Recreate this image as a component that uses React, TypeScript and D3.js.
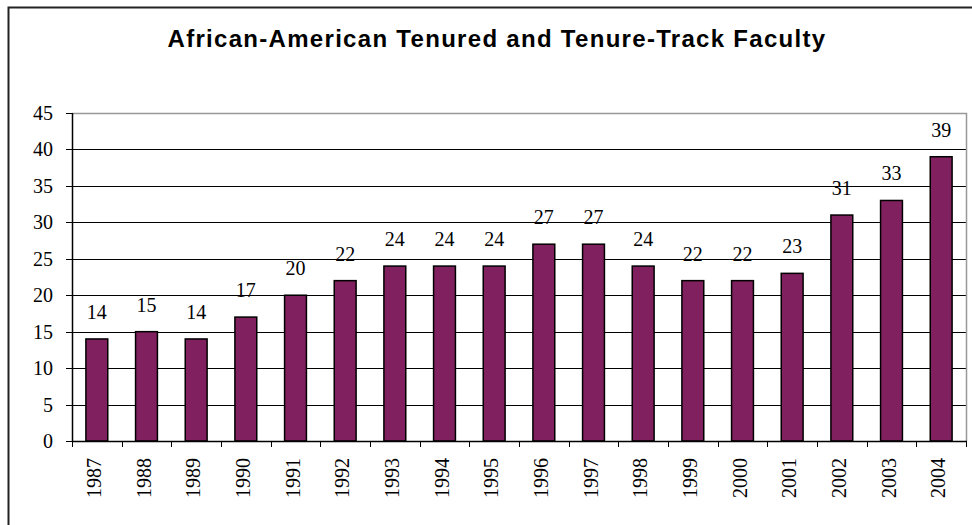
import React, { useEffect, useRef } from 'react';
import * as d3 from 'd3';

const years = ['1987', '1988', '1989', '1990', '1991', '1992', '1993', '1994', '1995', '1996', '1997', '1998', '1999', '2000', '2001', '2002', '2003', '2004'];
const faculty = [14, 15, 14, 17, 20, 22, 24, 24, 24, 27, 27, 24, 22, 22, 23, 31, 33, 39];
const yTicks = [0, 5, 10, 15, 20, 25, 30, 35, 40, 45];
const title = 'African-American Tenured and Tenure-Track Faculty';

const App: React.FC = () => {
  const ref = useRef<SVGSVGElement | null>(null);

  useEffect(() => {
    if (!ref.current) return;
    const svg = d3.select(ref.current);
    svg.selectAll('*').remove();

    const width = 972;
    const height = 525;
    const plot = { left: 72, right: 966, top: 113, bottom: 441 };

    // outer chart frame (runs off the right and bottom edge)
    svg
      .append('rect')
      .attr('x', 8.5)
      .attr('y', 7.5)
      .attr('width', width + 20)
      .attr('height', height + 20)
      .attr('fill', 'white')
      .attr('stroke', '#222')
      .attr('stroke-width', 2);

    svg
      .append('text')
      .attr('x', 497)
      .attr('y', 47)
      .attr('text-anchor', 'middle')
      .attr('font-family', 'Liberation Sans, Arial, sans-serif')
      .attr('font-weight', 'bold')
      .attr('font-size', 24)
      .attr('letter-spacing', 1.3)
      .text(title);

    const x = d3.scaleBand().domain(years).range([plot.left, plot.right]).paddingInner(0).paddingOuter(0);
    const y = d3.scaleLinear().domain([0, 45]).range([plot.bottom, plot.top]);
    const barW = x.bandwidth() * 0.44;

    // grid lines
    svg
      .selectAll('.grid')
      .data(yTicks.filter((d) => d > 0 && d < 45))
      .enter()
      .append('line')
      .attr('x1', plot.left)
      .attr('x2', plot.right)
      .attr('y1', (d) => Math.round(y(d)) + 0.5)
      .attr('y2', (d) => Math.round(y(d)) + 0.5)
      .attr('stroke', '#000')
      .attr('stroke-width', 1);

    // plot area border (top / right) in grey
    svg
      .append('path')
      .attr('d', `M${plot.left},${plot.top + 0.5}H${plot.right + 0.5}V${plot.bottom}`)
      .attr('fill', 'none')
      .attr('stroke', '#999')
      .attr('stroke-width', 1.5);

    // bars
    svg
      .selectAll('.bar')
      .data(faculty)
      .enter()
      .append('rect')
      .attr('x', (_, i) => (x(years[i]) as number) + (x.bandwidth() - barW) / 2)
      .attr('y', (d) => y(d))
      .attr('width', barW)
      .attr('height', (d) => y(0) - y(d))
      .attr('fill', '#80205F')
      .attr('stroke', '#000')
      .attr('stroke-width', 1.5);

    // value labels
    svg
      .selectAll('.val')
      .data(faculty)
      .enter()
      .append('text')
      .attr('x', (_, i) => (x(years[i]) as number) + x.bandwidth() / 2)
      .attr('y', (d) => y(d) - 20)
      .attr('text-anchor', 'middle')
      .attr('font-family', 'Liberation Serif, Times New Roman, serif')
      .attr('font-size', 20)
      .text((d) => d);

    // y axis
    svg
      .append('line')
      .attr('x1', plot.left + 0.5)
      .attr('x2', plot.left + 0.5)
      .attr('y1', plot.top)
      .attr('y2', plot.bottom)
      .attr('stroke', '#000')
      .attr('stroke-width', 1.5);

    svg
      .selectAll('.ytick')
      .data(yTicks)
      .enter()
      .append('line')
      .attr('x1', plot.left - 6)
      .attr('x2', plot.left)
      .attr('y1', (d) => Math.round(y(d)) + 0.5)
      .attr('y2', (d) => Math.round(y(d)) + 0.5)
      .attr('stroke', '#000');

    svg
      .selectAll('.ylab')
      .data(yTicks)
      .enter()
      .append('text')
      .attr('x', 53)
      .attr('y', (d) => y(d) + 7)
      .attr('text-anchor', 'end')
      .attr('font-family', 'Liberation Serif, Times New Roman, serif')
      .attr('font-size', 20)
      .text((d) => d);

    // x axis
    svg
      .append('line')
      .attr('x1', plot.left)
      .attr('x2', plot.right + 1)
      .attr('y1', plot.bottom + 0.5)
      .attr('y2', plot.bottom + 0.5)
      .attr('stroke', '#000')
      .attr('stroke-width', 1.5);

    const boundaries = years.map((yr) => x(yr) as number).concat([plot.right]);
    svg
      .selectAll('.xtick')
      .data(boundaries)
      .enter()
      .append('line')
      .attr('x1', (d) => Math.round(d) + 0.5)
      .attr('x2', (d) => Math.round(d) + 0.5)
      .attr('y1', plot.bottom)
      .attr('y2', plot.bottom + 6)
      .attr('stroke', '#000');

    svg
      .selectAll('.xlab')
      .data(years)
      .enter()
      .append('text')
      .attr('transform', (d) => `translate(${(x(d) as number) + x.bandwidth() / 2 + 4},458) rotate(-90)`)
      .attr('text-anchor', 'end')
      .attr('font-family', 'Liberation Serif, Times New Roman, serif')
      .attr('font-size', 20)
      .text((d) => d);
  }, []);

  return (
    <svg
      ref={ref}
      width={972}
      height={525}
      style={{ position: 'absolute', left: 0, top: 0, background: 'white' }}
    />
  );
};

export default App;
